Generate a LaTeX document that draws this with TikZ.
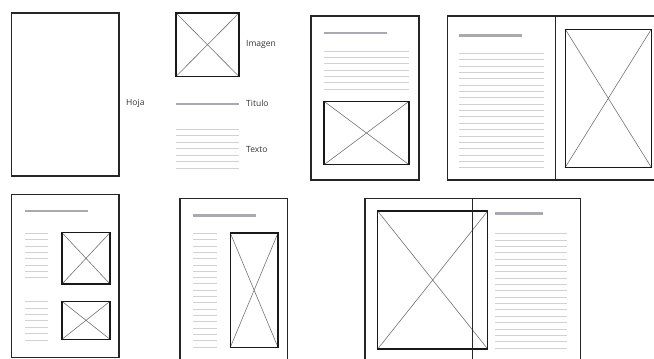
\documentclass[tikz,border=0pt]{standalone}
\usepackage{fontspec}
\setsansfont{Open Sans}
\usetikzlibrary{positioning}

\definecolor{titlegray}{HTML}{A9A9B2}
\definecolor{linegray}{HTML}{D2D2D4}

% image placeholder: box with a cross
\newcommand{\wfimage}[4]{%
  \draw[cross] (#1,#2) -- (#3,#4) (#1,#4) -- (#3,#2);
  \draw[imgbox] (#1,#2) rectangle (#3,#4);}
% n lines of body text
\newcommand{\wflines}[5]{%
  \foreach \k in {1,...,#4}
    \draw[txt] (#1,{#3+(\k-1)*#5}) -- (#2,{#3+(\k-1)*#5});}

\begin{document}
\begin{tikzpicture}[
  x=1pt,y=-1pt,
  page/.style={draw=black!85,line width=1.1pt},
  imgbox/.style={draw=black!90,line width=1.4pt},
  cross/.style={draw=black!55,line width=0.6pt},
  title/.style={draw=titlegray,line width=2.6pt},
  txt/.style={draw=linegray,line width=0.9pt},
  lbl/.style={font=\sffamily\fontsize{8.5}{10}\selectfont,text=black!80,anchor=west,inner sep=0pt}
]
\useasboundingbox (0,0) rectangle (654,359);
\clip (0,0) rectangle (654,359);

% legend
\draw[page] (11.5,13) rectangle (119,176);
\node[lbl] (hoja) at (126,103) {Hoja};
\wfimage{176}{13}{239}{76.5}
\node[lbl] (imagen) at (246,44) {Imagen};
\draw[title] (176,104) -- (239,104);
\node[lbl] (titulo) at (246,103.5) {Titulo};
\wflines{176}{239}{129.3}{7}{6.45}
\node[lbl] (texto) at (246,150) {Texto};

% single page, image below
\draw[page] (311,16) rectangle (419,180);
\draw[title] (324,33) -- (387,33);
\wflines{324}{409}{51}{7}{6.35}
\wfimage{324}{101.3}{409}{164.7}

% spread, text left, image right
\draw[page] (447.5,16) rectangle (664,180);
\draw[page] (555.3,16) -- (555.3,180);
\draw[title] (459.3,35.3) -- (522,35.3);
\wflines{459.3}{544}{53.3}{19}{6.36}
\wfimage{565.3}{29.3}{651.3}{167.3}

% page with two images
\draw[page] (11.5,194.7) rectangle (119,357.7);
\draw[title] (25,211) -- (87.7,211);
\wflines{25}{48.3}{233.3}{8}{6.34}
\wfimage{62}{232.7}{110}{284}
\wflines{25}{48.3}{301.7}{7}{6.4}
\wfimage{62}{301.3}{110}{339.3}

% page with tall image
\draw[page] (180,198.3) rectangle (287.7,372);
\draw[title] (193.3,215.7) -- (256,215.7);
\wflines{193.3}{216.7}{233.3}{19}{6.33}
\wfimage{230.3}{233}{278}{347.3}

% spread, image across the fold
\draw[page] (365,198.3) rectangle (580.7,372);
\wfimage{377.7}{211}{487.7}{349}
\draw[page] (472.7,198.3) -- (472.7,372);
\draw[title] (495,213.7) -- (543.3,213.7);
\wflines{495}{566.7}{233.7}{19}{6.35}
\end{tikzpicture}
\end{document}
